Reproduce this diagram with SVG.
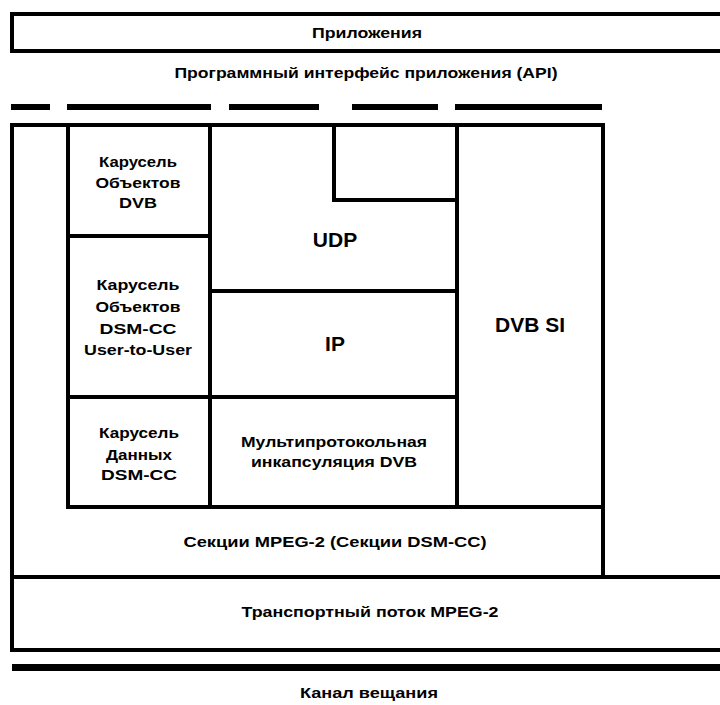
<svg xmlns="http://www.w3.org/2000/svg" width="720" height="705" viewBox="0 0 720 705">
<style>
.box{fill:none;stroke:#000;stroke-width:4}
.t{font-family:"Liberation Sans",Arial,sans-serif;font-weight:bold;fill:#000;text-anchor:middle}
.s{font-size:15px}
.m{font-size:15px}
.l{font-size:21px}
</style>
<rect width="720" height="705" fill="#fff"/>
<g id="apps">
<rect class="box" x="12" y="14" width="720" height="37"/>
<text class="t s" x="367" y="38" textLength="110" lengthAdjust="spacingAndGlyphs">Приложения</text>
</g>
<g id="api">
<text class="t m" x="366" y="78" textLength="383" lengthAdjust="spacingAndGlyphs">Программный интерфейс приложения (API)</text>
</g>
<g id="connectors">
<g id="api-line" fill="#000">
<rect x="11" y="104" width="39" height="6"/>
<rect x="67" y="104" width="144" height="6"/>
<rect x="229" y="104" width="90" height="6"/>
<rect x="352" y="104" width="86" height="6"/>
<rect x="455" y="104" width="147" height="6"/>
</g>
<rect id="channel-line" x="12" y="664" width="720" height="7" fill="#000"/>
</g>
<g id="sections">
<rect class="box" x="12" y="125" width="591" height="452"/>
<text class="t s" x="335" y="547" textLength="303" lengthAdjust="spacingAndGlyphs">Секции MPEG-2 (Секции DSM-CC)</text>
</g>
<g id="transport">
<rect class="box" x="12" y="577" width="720" height="73"/>
<text class="t m" x="370" y="617" textLength="257" lengthAdjust="spacingAndGlyphs">Транспортный поток MPEG-2</text>
</g>
<g id="object-carousel-dvb">
<rect class="box" x="68" y="125" width="142" height="111"/>
<text class="t s" x="138" y="167" textLength="78" lengthAdjust="spacingAndGlyphs">Карусель</text>
<text class="t s" x="138" y="188" textLength="85" lengthAdjust="spacingAndGlyphs">Объектов</text>
<text class="t s" x="138" y="208" textLength="38" lengthAdjust="spacingAndGlyphs">DVB</text>
</g>
<g id="object-carousel-u2u">
<rect class="box" x="68" y="236" width="142" height="161"/>
<text class="t s" x="138" y="290" textLength="83" lengthAdjust="spacingAndGlyphs">Карусель</text>
<text class="t s" x="138" y="312" textLength="85" lengthAdjust="spacingAndGlyphs">Объектов</text>
<text class="t s" x="138" y="334" textLength="77" lengthAdjust="spacingAndGlyphs">DSM-CC</text>
<text class="t s" x="138" y="355" textLength="108" lengthAdjust="spacingAndGlyphs">User-to-User</text>
</g>
<g id="data-carousel">
<rect class="box" x="68" y="397" width="142" height="110"/>
<text class="t s" x="139" y="438" textLength="80" lengthAdjust="spacingAndGlyphs">Карусель</text>
<text class="t s" x="139" y="460" textLength="66" lengthAdjust="spacingAndGlyphs">Данных</text>
<text class="t s" x="139" y="480" textLength="76" lengthAdjust="spacingAndGlyphs">DSM-CC</text>
</g>
<g id="udp">
<rect class="box" x="210" y="125" width="247" height="166"/>
<rect class="box" x="334" y="125" width="123" height="75"/>
<text class="t l" x="335" y="247">UDP</text>
</g>
<g id="ip">
<rect class="box" x="210" y="291" width="247" height="106"/>
<text class="t l" x="335" y="351">IP</text>
</g>
<g id="mpe">
<rect class="box" x="210" y="397" width="247" height="110"/>
<text class="t s" x="334" y="447" textLength="186" lengthAdjust="spacingAndGlyphs">Мультипротокольная</text>
<text class="t s" x="334" y="467" textLength="166" lengthAdjust="spacingAndGlyphs">инкапсуляция DVB</text>
</g>
<g id="dvb-si">
<rect class="box" x="457" y="125" width="146" height="382"/>
<text class="t l" x="530" y="332">DVB SI</text>
</g>
<g id="channel">
<text class="t s" x="369" y="698" textLength="138" lengthAdjust="spacingAndGlyphs">Канал вещания</text>
</g>
</svg>
